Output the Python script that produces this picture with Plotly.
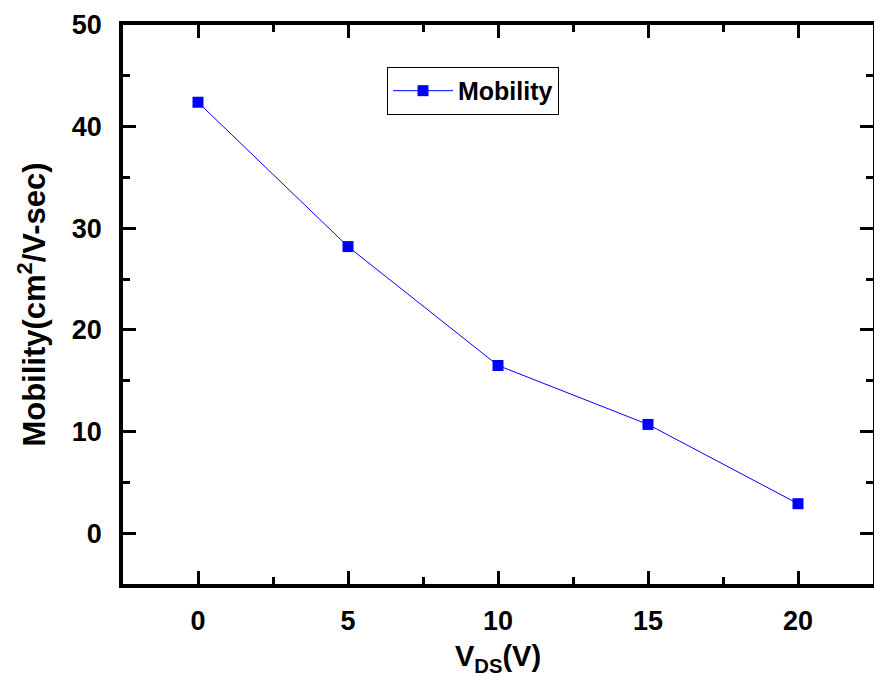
import plotly.graph_objects as go

vds = [0, 5, 10, 15, 20]
mobility = [42.4, 28.2, 16.5, 10.7, 2.9]

font_family = "Liberation Sans, Arial, sans-serif"

fig = go.Figure()
fig.add_trace(go.Scatter(
    x=vds, y=mobility, mode="lines+markers", name="<b>Mobility</b>",
    line=dict(color="#0000FF", width=1),
    marker=dict(symbol="square", size=11, color="#0000FF"),
))

axis_common = dict(
    showline=True, linecolor="black", linewidth=3.5, mirror="allticks",
    ticks="inside", ticklen=13, tickwidth=3, tickcolor="black",
    showgrid=False, zeroline=False, automargin=False,
    tickfont=dict(family=font_family, size=27, color="black", weight="bold"),
)

fig.update_xaxes(
    range=[-2.5, 22.5], dtick=5, tick0=0,
    minor=dict(dtick=2.5, ticks="inside", ticklen=7, tickwidth=3, tickcolor="black", showgrid=False),
    ticklabelstandoff=10,
    title=dict(text="<b>V<sub>DS</sub>(V)</b>", font=dict(family=font_family, size=29, color="black"), standoff=12),
    **axis_common,
)
fig.update_yaxes(
    range=[-5, 50], dtick=10, tick0=0,
    minor=dict(dtick=5, ticks="inside", ticklen=7, tickwidth=3, tickcolor="black", showgrid=False),
    ticklabelstandoff=12,
    title=dict(text="<b>Mobility(cm<sup>2</sup>/V-sec)</b>", font=dict(family=font_family, size=31, color="black"), standoff=18),
    **axis_common,
)

fig.update_layout(
    width=874, height=677,
    margin=dict(l=123, r=1, t=25, b=93),
    plot_bgcolor="white", paper_bgcolor="white",
    showlegend=True,
    legend=dict(
        x=0.352, y=0.925, xanchor="left", yanchor="top",
        bordercolor="black", borderwidth=1, bgcolor="white",
        font=dict(family=font_family, size=25, color="black"),
        tracegroupgap=0, itemwidth=60,
    ),
)

fig.write_html("out.html")
